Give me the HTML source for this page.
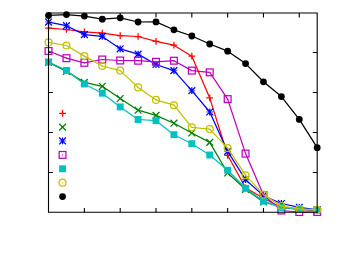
<!DOCTYPE html>
<html><head><meta charset="utf-8"><title>plot</title>
<style>html,body{margin:0;padding:0;background:#fff;font-family:"Liberation Sans",sans-serif;}svg{display:block}</style></head>
<body>
<svg width="338" height="254" viewBox="0 0 338 254">
<rect width="338" height="254" fill="#fff"/>
<path d="M48.5 172.50h4.4M317.2 172.50h-4.4M48.5 132.50h4.4M317.2 132.50h-4.4M48.5 92.50h4.4M317.2 92.50h-4.4M48.5 52.50h4.4M317.2 52.50h-4.4M84.37 212.3v-4.4M84.37 13.0v4.4M120.19 212.3v-4.4M120.19 13.0v4.4M156.01 212.3v-4.4M156.01 13.0v4.4M191.83 212.3v-4.4M191.83 13.0v4.4M227.65 212.3v-4.4M227.65 13.0v4.4M263.47 212.3v-4.4M263.47 13.0v4.4M299.29 212.3v-4.4M299.29 13.0v4.4" stroke="#000" stroke-width="1.1" fill="none"/>
<g><polyline points="48.55,28.20 66.46,29.50 84.37,31.90 102.28,33.20 120.19,35.60 138.10,36.50 156.01,41.30 173.92,45.20 191.83,56.20 209.74,97.90 227.65,155.30 245.56,187.80 263.47,198.20 281.38,207.50 299.29,209.50 317.20,210.50" stroke="#ff0000" stroke-width="1.25" fill="none" stroke-linejoin="round"/>
<path d="M45.20 28.20H51.90M48.55 24.85V31.55" stroke="#ff0000" stroke-width="1.25" fill="none"/>
<path d="M63.11 29.50H69.81M66.46 26.15V32.85" stroke="#ff0000" stroke-width="1.25" fill="none"/>
<path d="M81.02 31.90H87.72M84.37 28.55V35.25" stroke="#ff0000" stroke-width="1.25" fill="none"/>
<path d="M98.93 33.20H105.63M102.28 29.85V36.55" stroke="#ff0000" stroke-width="1.25" fill="none"/>
<path d="M116.84 35.60H123.54M120.19 32.25V38.95" stroke="#ff0000" stroke-width="1.25" fill="none"/>
<path d="M134.75 36.50H141.45M138.10 33.15V39.85" stroke="#ff0000" stroke-width="1.25" fill="none"/>
<path d="M152.66 41.30H159.36M156.01 37.95V44.65" stroke="#ff0000" stroke-width="1.25" fill="none"/>
<path d="M170.57 45.20H177.27M173.92 41.85V48.55" stroke="#ff0000" stroke-width="1.25" fill="none"/>
<path d="M188.48 56.20H195.18M191.83 52.85V59.55" stroke="#ff0000" stroke-width="1.25" fill="none"/>
<path d="M206.39 97.90H213.09M209.74 94.55V101.25" stroke="#ff0000" stroke-width="1.25" fill="none"/>
<path d="M224.30 155.30H231.00M227.65 151.95V158.65" stroke="#ff0000" stroke-width="1.25" fill="none"/>
<path d="M242.21 187.80H248.91M245.56 184.45V191.15" stroke="#ff0000" stroke-width="1.25" fill="none"/>
<path d="M260.12 198.20H266.82M263.47 194.85V201.55" stroke="#ff0000" stroke-width="1.25" fill="none"/>
<path d="M278.03 207.50H284.73M281.38 204.15V210.85" stroke="#ff0000" stroke-width="1.25" fill="none"/>
<path d="M295.94 209.50H302.64M299.29 206.15V212.85" stroke="#ff0000" stroke-width="1.25" fill="none"/>
<path d="M313.85 210.50H320.55M317.20 207.15V213.85" stroke="#ff0000" stroke-width="1.25" fill="none"/>
<path d="M59.20 113.30H65.90M62.55 109.95V116.65" stroke="#ff0000" stroke-width="1.25" fill="none"/>
</g>
<g><polyline points="48.55,62.40 66.46,71.40 84.37,82.40 102.28,86.30 120.19,98.50 138.10,110.20 156.01,115.40 173.92,123.20 191.83,133.00 209.74,142.40 227.65,173.00 245.56,189.30 263.47,202.00 281.38,207.00 299.29,209.50 317.20,210.20" stroke="#008000" stroke-width="1.25" fill="none" stroke-linejoin="round"/>
<path d="M45.15 59.00L51.95 65.80M45.15 65.80L51.95 59.00" stroke="#008000" stroke-width="1.25" fill="none"/>
<path d="M63.06 68.00L69.86 74.80M63.06 74.80L69.86 68.00" stroke="#008000" stroke-width="1.25" fill="none"/>
<path d="M80.97 79.00L87.77 85.80M80.97 85.80L87.77 79.00" stroke="#008000" stroke-width="1.25" fill="none"/>
<path d="M98.88 82.90L105.68 89.70M98.88 89.70L105.68 82.90" stroke="#008000" stroke-width="1.25" fill="none"/>
<path d="M116.79 95.10L123.59 101.90M116.79 101.90L123.59 95.10" stroke="#008000" stroke-width="1.25" fill="none"/>
<path d="M134.70 106.80L141.50 113.60M134.70 113.60L141.50 106.80" stroke="#008000" stroke-width="1.25" fill="none"/>
<path d="M152.61 112.00L159.41 118.80M152.61 118.80L159.41 112.00" stroke="#008000" stroke-width="1.25" fill="none"/>
<path d="M170.52 119.80L177.32 126.60M170.52 126.60L177.32 119.80" stroke="#008000" stroke-width="1.25" fill="none"/>
<path d="M188.43 129.60L195.23 136.40M188.43 136.40L195.23 129.60" stroke="#008000" stroke-width="1.25" fill="none"/>
<path d="M206.34 139.00L213.14 145.80M206.34 145.80L213.14 139.00" stroke="#008000" stroke-width="1.25" fill="none"/>
<path d="M224.25 169.60L231.05 176.40M224.25 176.40L231.05 169.60" stroke="#008000" stroke-width="1.25" fill="none"/>
<path d="M242.16 185.90L248.96 192.70M242.16 192.70L248.96 185.90" stroke="#008000" stroke-width="1.25" fill="none"/>
<path d="M260.07 198.60L266.87 205.40M260.07 205.40L266.87 198.60" stroke="#008000" stroke-width="1.25" fill="none"/>
<path d="M277.98 203.60L284.78 210.40M277.98 210.40L284.78 203.60" stroke="#008000" stroke-width="1.25" fill="none"/>
<path d="M295.89 206.10L302.69 212.90M295.89 212.90L302.69 206.10" stroke="#008000" stroke-width="1.25" fill="none"/>
<path d="M313.80 206.80L320.60 213.60M313.80 213.60L320.60 206.80" stroke="#008000" stroke-width="1.25" fill="none"/>
<path d="M59.15 123.75L65.95 130.55M59.15 130.55L65.95 123.75" stroke="#008000" stroke-width="1.25" fill="none"/>
</g>
<g><polyline points="48.55,22.05 66.46,25.70 84.37,34.60 102.28,36.40 120.19,48.80 138.10,54.10 156.01,64.50 173.92,70.60 191.83,90.70 209.74,112.00 227.65,151.40 245.56,179.60 263.47,195.70 281.38,203.50 299.29,207.30 317.20,209.80" stroke="#0000ff" stroke-width="1.25" fill="none" stroke-linejoin="round"/>
<path d="M45.15 18.65L51.95 25.45M45.15 25.45L51.95 18.65M48.55 18.65V25.45" stroke="#0000ff" stroke-width="1.25" fill="none"/><path d="M45.15 22.05H51.95" stroke="#0000ff" stroke-width="1.25" stroke-opacity="0.6" fill="none"/>
<path d="M63.06 22.30L69.86 29.10M63.06 29.10L69.86 22.30M66.46 22.30V29.10" stroke="#0000ff" stroke-width="1.25" fill="none"/><path d="M63.06 25.70H69.86" stroke="#0000ff" stroke-width="1.25" stroke-opacity="0.6" fill="none"/>
<path d="M80.97 31.20L87.77 38.00M80.97 38.00L87.77 31.20M84.37 31.20V38.00" stroke="#0000ff" stroke-width="1.25" fill="none"/><path d="M80.97 34.60H87.77" stroke="#0000ff" stroke-width="1.25" stroke-opacity="0.6" fill="none"/>
<path d="M98.88 33.00L105.68 39.80M98.88 39.80L105.68 33.00M102.28 33.00V39.80" stroke="#0000ff" stroke-width="1.25" fill="none"/><path d="M98.88 36.40H105.68" stroke="#0000ff" stroke-width="1.25" stroke-opacity="0.6" fill="none"/>
<path d="M116.79 45.40L123.59 52.20M116.79 52.20L123.59 45.40M120.19 45.40V52.20" stroke="#0000ff" stroke-width="1.25" fill="none"/><path d="M116.79 48.80H123.59" stroke="#0000ff" stroke-width="1.25" stroke-opacity="0.6" fill="none"/>
<path d="M134.70 50.70L141.50 57.50M134.70 57.50L141.50 50.70M138.10 50.70V57.50" stroke="#0000ff" stroke-width="1.25" fill="none"/><path d="M134.70 54.10H141.50" stroke="#0000ff" stroke-width="1.25" stroke-opacity="0.6" fill="none"/>
<path d="M152.61 61.10L159.41 67.90M152.61 67.90L159.41 61.10M156.01 61.10V67.90" stroke="#0000ff" stroke-width="1.25" fill="none"/><path d="M152.61 64.50H159.41" stroke="#0000ff" stroke-width="1.25" stroke-opacity="0.6" fill="none"/>
<path d="M170.52 67.20L177.32 74.00M170.52 74.00L177.32 67.20M173.92 67.20V74.00" stroke="#0000ff" stroke-width="1.25" fill="none"/><path d="M170.52 70.60H177.32" stroke="#0000ff" stroke-width="1.25" stroke-opacity="0.6" fill="none"/>
<path d="M188.43 87.30L195.23 94.10M188.43 94.10L195.23 87.30M191.83 87.30V94.10" stroke="#0000ff" stroke-width="1.25" fill="none"/><path d="M188.43 90.70H195.23" stroke="#0000ff" stroke-width="1.25" stroke-opacity="0.6" fill="none"/>
<path d="M206.34 108.60L213.14 115.40M206.34 115.40L213.14 108.60M209.74 108.60V115.40" stroke="#0000ff" stroke-width="1.25" fill="none"/><path d="M206.34 112.00H213.14" stroke="#0000ff" stroke-width="1.25" stroke-opacity="0.6" fill="none"/>
<path d="M224.25 148.00L231.05 154.80M224.25 154.80L231.05 148.00M227.65 148.00V154.80" stroke="#0000ff" stroke-width="1.25" fill="none"/><path d="M224.25 151.40H231.05" stroke="#0000ff" stroke-width="1.25" stroke-opacity="0.6" fill="none"/>
<path d="M242.16 176.20L248.96 183.00M242.16 183.00L248.96 176.20M245.56 176.20V183.00" stroke="#0000ff" stroke-width="1.25" fill="none"/><path d="M242.16 179.60H248.96" stroke="#0000ff" stroke-width="1.25" stroke-opacity="0.6" fill="none"/>
<path d="M260.07 192.30L266.87 199.10M260.07 199.10L266.87 192.30M263.47 192.30V199.10" stroke="#0000ff" stroke-width="1.25" fill="none"/><path d="M260.07 195.70H266.87" stroke="#0000ff" stroke-width="1.25" stroke-opacity="0.6" fill="none"/>
<path d="M277.98 200.10L284.78 206.90M277.98 206.90L284.78 200.10M281.38 200.10V206.90" stroke="#0000ff" stroke-width="1.25" fill="none"/><path d="M277.98 203.50H284.78" stroke="#0000ff" stroke-width="1.25" stroke-opacity="0.6" fill="none"/>
<path d="M295.89 203.90L302.69 210.70M295.89 210.70L302.69 203.90M299.29 203.90V210.70" stroke="#0000ff" stroke-width="1.25" fill="none"/><path d="M295.89 207.30H302.69" stroke="#0000ff" stroke-width="1.25" stroke-opacity="0.6" fill="none"/>
<path d="M313.80 206.40L320.60 213.20M313.80 213.20L320.60 206.40M317.20 206.40V213.20" stroke="#0000ff" stroke-width="1.25" fill="none"/><path d="M313.80 209.80H320.60" stroke="#0000ff" stroke-width="1.25" stroke-opacity="0.6" fill="none"/>
<path d="M59.15 137.55L65.95 144.35M59.15 144.35L65.95 137.55M62.55 137.55V144.35" stroke="#0000ff" stroke-width="1.25" fill="none"/><path d="M59.15 140.95H65.95" stroke="#0000ff" stroke-width="1.25" stroke-opacity="0.6" fill="none"/>
</g>
<g><polyline points="48.55,51.00 66.46,58.20 84.37,62.80 102.28,59.50 120.19,60.50 138.10,60.70 156.01,61.80 173.92,60.70 191.83,70.60 209.74,72.35 227.65,99.10 245.56,153.60 263.47,195.10 281.38,210.50 299.29,212.00 317.20,212.00" stroke="#c000c0" stroke-width="1.25" fill="none" stroke-linejoin="round"/>
<rect x="45.15" y="47.60" width="6.80" height="6.80" stroke="#c000c0" stroke-width="1.25" fill="none"/><circle cx="48.55" cy="51.00" r="0.6" fill="#c000c0"/>
<rect x="63.06" y="54.80" width="6.80" height="6.80" stroke="#c000c0" stroke-width="1.25" fill="none"/><circle cx="66.46" cy="58.20" r="0.6" fill="#c000c0"/>
<rect x="80.97" y="59.40" width="6.80" height="6.80" stroke="#c000c0" stroke-width="1.25" fill="none"/><circle cx="84.37" cy="62.80" r="0.6" fill="#c000c0"/>
<rect x="98.88" y="56.10" width="6.80" height="6.80" stroke="#c000c0" stroke-width="1.25" fill="none"/><circle cx="102.28" cy="59.50" r="0.6" fill="#c000c0"/>
<rect x="116.79" y="57.10" width="6.80" height="6.80" stroke="#c000c0" stroke-width="1.25" fill="none"/><circle cx="120.19" cy="60.50" r="0.6" fill="#c000c0"/>
<rect x="134.70" y="57.30" width="6.80" height="6.80" stroke="#c000c0" stroke-width="1.25" fill="none"/><circle cx="138.10" cy="60.70" r="0.6" fill="#c000c0"/>
<rect x="152.61" y="58.40" width="6.80" height="6.80" stroke="#c000c0" stroke-width="1.25" fill="none"/><circle cx="156.01" cy="61.80" r="0.6" fill="#c000c0"/>
<rect x="170.52" y="57.30" width="6.80" height="6.80" stroke="#c000c0" stroke-width="1.25" fill="none"/><circle cx="173.92" cy="60.70" r="0.6" fill="#c000c0"/>
<rect x="188.43" y="67.20" width="6.80" height="6.80" stroke="#c000c0" stroke-width="1.25" fill="none"/><circle cx="191.83" cy="70.60" r="0.6" fill="#c000c0"/>
<rect x="206.34" y="68.95" width="6.80" height="6.80" stroke="#c000c0" stroke-width="1.25" fill="none"/><circle cx="209.74" cy="72.35" r="0.6" fill="#c000c0"/>
<rect x="224.25" y="95.70" width="6.80" height="6.80" stroke="#c000c0" stroke-width="1.25" fill="none"/><circle cx="227.65" cy="99.10" r="0.6" fill="#c000c0"/>
<rect x="242.16" y="150.20" width="6.80" height="6.80" stroke="#c000c0" stroke-width="1.25" fill="none"/><circle cx="245.56" cy="153.60" r="0.6" fill="#c000c0"/>
<rect x="260.07" y="191.70" width="6.80" height="6.80" stroke="#c000c0" stroke-width="1.25" fill="none"/><circle cx="263.47" cy="195.10" r="0.6" fill="#c000c0"/>
<rect x="277.98" y="207.10" width="6.80" height="6.80" stroke="#c000c0" stroke-width="1.25" fill="none"/><circle cx="281.38" cy="210.50" r="0.6" fill="#c000c0"/>
<rect x="295.89" y="208.60" width="6.80" height="6.80" stroke="#c000c0" stroke-width="1.25" fill="none"/><circle cx="299.29" cy="212.00" r="0.6" fill="#c000c0"/>
<rect x="313.80" y="208.60" width="6.80" height="6.80" stroke="#c000c0" stroke-width="1.25" fill="none"/><circle cx="317.20" cy="212.00" r="0.6" fill="#c000c0"/>
<rect x="59.15" y="151.50" width="6.80" height="6.80" stroke="#c000c0" stroke-width="1.25" fill="none"/><circle cx="62.55" cy="154.90" r="0.6" fill="#c000c0"/>
</g>
<g><polyline points="48.55,62.00 66.46,70.40 84.37,84.00 102.28,93.20 120.19,106.90 138.10,119.50 156.01,120.70 173.92,134.70 191.83,143.70 209.74,155.00 227.65,170.30 245.56,188.30 263.47,201.20 281.38,207.40 299.29,209.20 317.20,209.90" stroke="#00c0c0" stroke-width="1.25" fill="none" stroke-linejoin="round"/>
<rect x="45.10" y="58.55" width="6.90" height="6.90" fill="#00c0c0"/>
<rect x="63.01" y="66.95" width="6.90" height="6.90" fill="#00c0c0"/>
<rect x="80.92" y="80.55" width="6.90" height="6.90" fill="#00c0c0"/>
<rect x="98.83" y="89.75" width="6.90" height="6.90" fill="#00c0c0"/>
<rect x="116.74" y="103.45" width="6.90" height="6.90" fill="#00c0c0"/>
<rect x="134.65" y="116.05" width="6.90" height="6.90" fill="#00c0c0"/>
<rect x="152.56" y="117.25" width="6.90" height="6.90" fill="#00c0c0"/>
<rect x="170.47" y="131.25" width="6.90" height="6.90" fill="#00c0c0"/>
<rect x="188.38" y="140.25" width="6.90" height="6.90" fill="#00c0c0"/>
<rect x="206.29" y="151.55" width="6.90" height="6.90" fill="#00c0c0"/>
<rect x="224.20" y="166.85" width="6.90" height="6.90" fill="#00c0c0"/>
<rect x="242.11" y="184.85" width="6.90" height="6.90" fill="#00c0c0"/>
<rect x="260.02" y="197.75" width="6.90" height="6.90" fill="#00c0c0"/>
<rect x="277.93" y="203.95" width="6.90" height="6.90" fill="#00c0c0"/>
<rect x="295.84" y="205.75" width="6.90" height="6.90" fill="#00c0c0"/>
<rect x="313.75" y="206.45" width="6.90" height="6.90" fill="#00c0c0"/>
<rect x="59.10" y="165.30" width="6.90" height="6.90" fill="#00c0c0"/>
</g>
<g><polyline points="48.55,42.40 66.46,45.50 84.37,56.10 102.28,66.00 120.19,70.60 138.10,87.40 156.01,99.90 173.92,105.20 191.83,127.30 209.74,129.10 227.65,148.10 245.56,175.20 263.47,194.60 281.38,206.10 299.29,208.80 317.20,209.80" stroke="#c0c000" stroke-width="1.25" fill="none" stroke-linejoin="round"/>
<circle cx="48.55" cy="42.40" r="3.45" stroke="#c0c000" stroke-width="1.25" fill="none"/><circle cx="48.55" cy="42.40" r="0.6" fill="#c0c000"/>
<circle cx="66.46" cy="45.50" r="3.45" stroke="#c0c000" stroke-width="1.25" fill="none"/><circle cx="66.46" cy="45.50" r="0.6" fill="#c0c000"/>
<circle cx="84.37" cy="56.10" r="3.45" stroke="#c0c000" stroke-width="1.25" fill="none"/><circle cx="84.37" cy="56.10" r="0.6" fill="#c0c000"/>
<circle cx="102.28" cy="66.00" r="3.45" stroke="#c0c000" stroke-width="1.25" fill="none"/><circle cx="102.28" cy="66.00" r="0.6" fill="#c0c000"/>
<circle cx="120.19" cy="70.60" r="3.45" stroke="#c0c000" stroke-width="1.25" fill="none"/><circle cx="120.19" cy="70.60" r="0.6" fill="#c0c000"/>
<circle cx="138.10" cy="87.40" r="3.45" stroke="#c0c000" stroke-width="1.25" fill="none"/><circle cx="138.10" cy="87.40" r="0.6" fill="#c0c000"/>
<circle cx="156.01" cy="99.90" r="3.45" stroke="#c0c000" stroke-width="1.25" fill="none"/><circle cx="156.01" cy="99.90" r="0.6" fill="#c0c000"/>
<circle cx="173.92" cy="105.20" r="3.45" stroke="#c0c000" stroke-width="1.25" fill="none"/><circle cx="173.92" cy="105.20" r="0.6" fill="#c0c000"/>
<circle cx="191.83" cy="127.30" r="3.45" stroke="#c0c000" stroke-width="1.25" fill="none"/><circle cx="191.83" cy="127.30" r="0.6" fill="#c0c000"/>
<circle cx="209.74" cy="129.10" r="3.45" stroke="#c0c000" stroke-width="1.25" fill="none"/><circle cx="209.74" cy="129.10" r="0.6" fill="#c0c000"/>
<circle cx="227.65" cy="148.10" r="3.45" stroke="#c0c000" stroke-width="1.25" fill="none"/><circle cx="227.65" cy="148.10" r="0.6" fill="#c0c000"/>
<circle cx="245.56" cy="175.20" r="3.45" stroke="#c0c000" stroke-width="1.25" fill="none"/><circle cx="245.56" cy="175.20" r="0.6" fill="#c0c000"/>
<circle cx="263.47" cy="194.60" r="3.45" stroke="#c0c000" stroke-width="1.25" fill="none"/><circle cx="263.47" cy="194.60" r="0.6" fill="#c0c000"/>
<circle cx="281.38" cy="206.10" r="3.45" stroke="#c0c000" stroke-width="1.25" fill="none"/><circle cx="281.38" cy="206.10" r="0.6" fill="#c0c000"/>
<circle cx="299.29" cy="208.80" r="3.45" stroke="#c0c000" stroke-width="1.25" fill="none"/><circle cx="299.29" cy="208.80" r="0.6" fill="#c0c000"/>
<circle cx="317.20" cy="209.80" r="3.45" stroke="#c0c000" stroke-width="1.25" fill="none"/><circle cx="317.20" cy="209.80" r="0.6" fill="#c0c000"/>
<circle cx="62.55" cy="182.65" r="3.45" stroke="#c0c000" stroke-width="1.25" fill="none"/><circle cx="62.55" cy="182.65" r="0.6" fill="#c0c000"/>
</g>
<g><polyline points="48.55,15.40 66.46,14.60 84.37,16.05 102.28,19.20 120.19,17.80 138.10,22.00 156.01,21.90 173.92,29.80 191.83,36.00 209.74,44.00 227.65,51.20 245.56,63.60 263.47,81.80 281.38,96.60 299.29,119.40 317.20,147.70" stroke="#000000" stroke-width="1.25" fill="none" stroke-linejoin="round"/>
<circle cx="48.55" cy="15.40" r="3.4" fill="#000000"/>
<circle cx="66.46" cy="14.60" r="3.4" fill="#000000"/>
<circle cx="84.37" cy="16.05" r="3.4" fill="#000000"/>
<circle cx="102.28" cy="19.20" r="3.4" fill="#000000"/>
<circle cx="120.19" cy="17.80" r="3.4" fill="#000000"/>
<circle cx="138.10" cy="22.00" r="3.4" fill="#000000"/>
<circle cx="156.01" cy="21.90" r="3.4" fill="#000000"/>
<circle cx="173.92" cy="29.80" r="3.4" fill="#000000"/>
<circle cx="191.83" cy="36.00" r="3.4" fill="#000000"/>
<circle cx="209.74" cy="44.00" r="3.4" fill="#000000"/>
<circle cx="227.65" cy="51.20" r="3.4" fill="#000000"/>
<circle cx="245.56" cy="63.60" r="3.4" fill="#000000"/>
<circle cx="263.47" cy="81.80" r="3.4" fill="#000000"/>
<circle cx="281.38" cy="96.60" r="3.4" fill="#000000"/>
<circle cx="299.29" cy="119.40" r="3.4" fill="#000000"/>
<circle cx="317.20" cy="147.70" r="3.4" fill="#000000"/>
<circle cx="62.55" cy="196.60" r="3.4" fill="#000000"/>
</g>
<path d="M48.5 13.0V212.3H317.2V13.0Z" stroke="#000" stroke-width="1.1" fill="none"/>
</svg>
</body></html>
